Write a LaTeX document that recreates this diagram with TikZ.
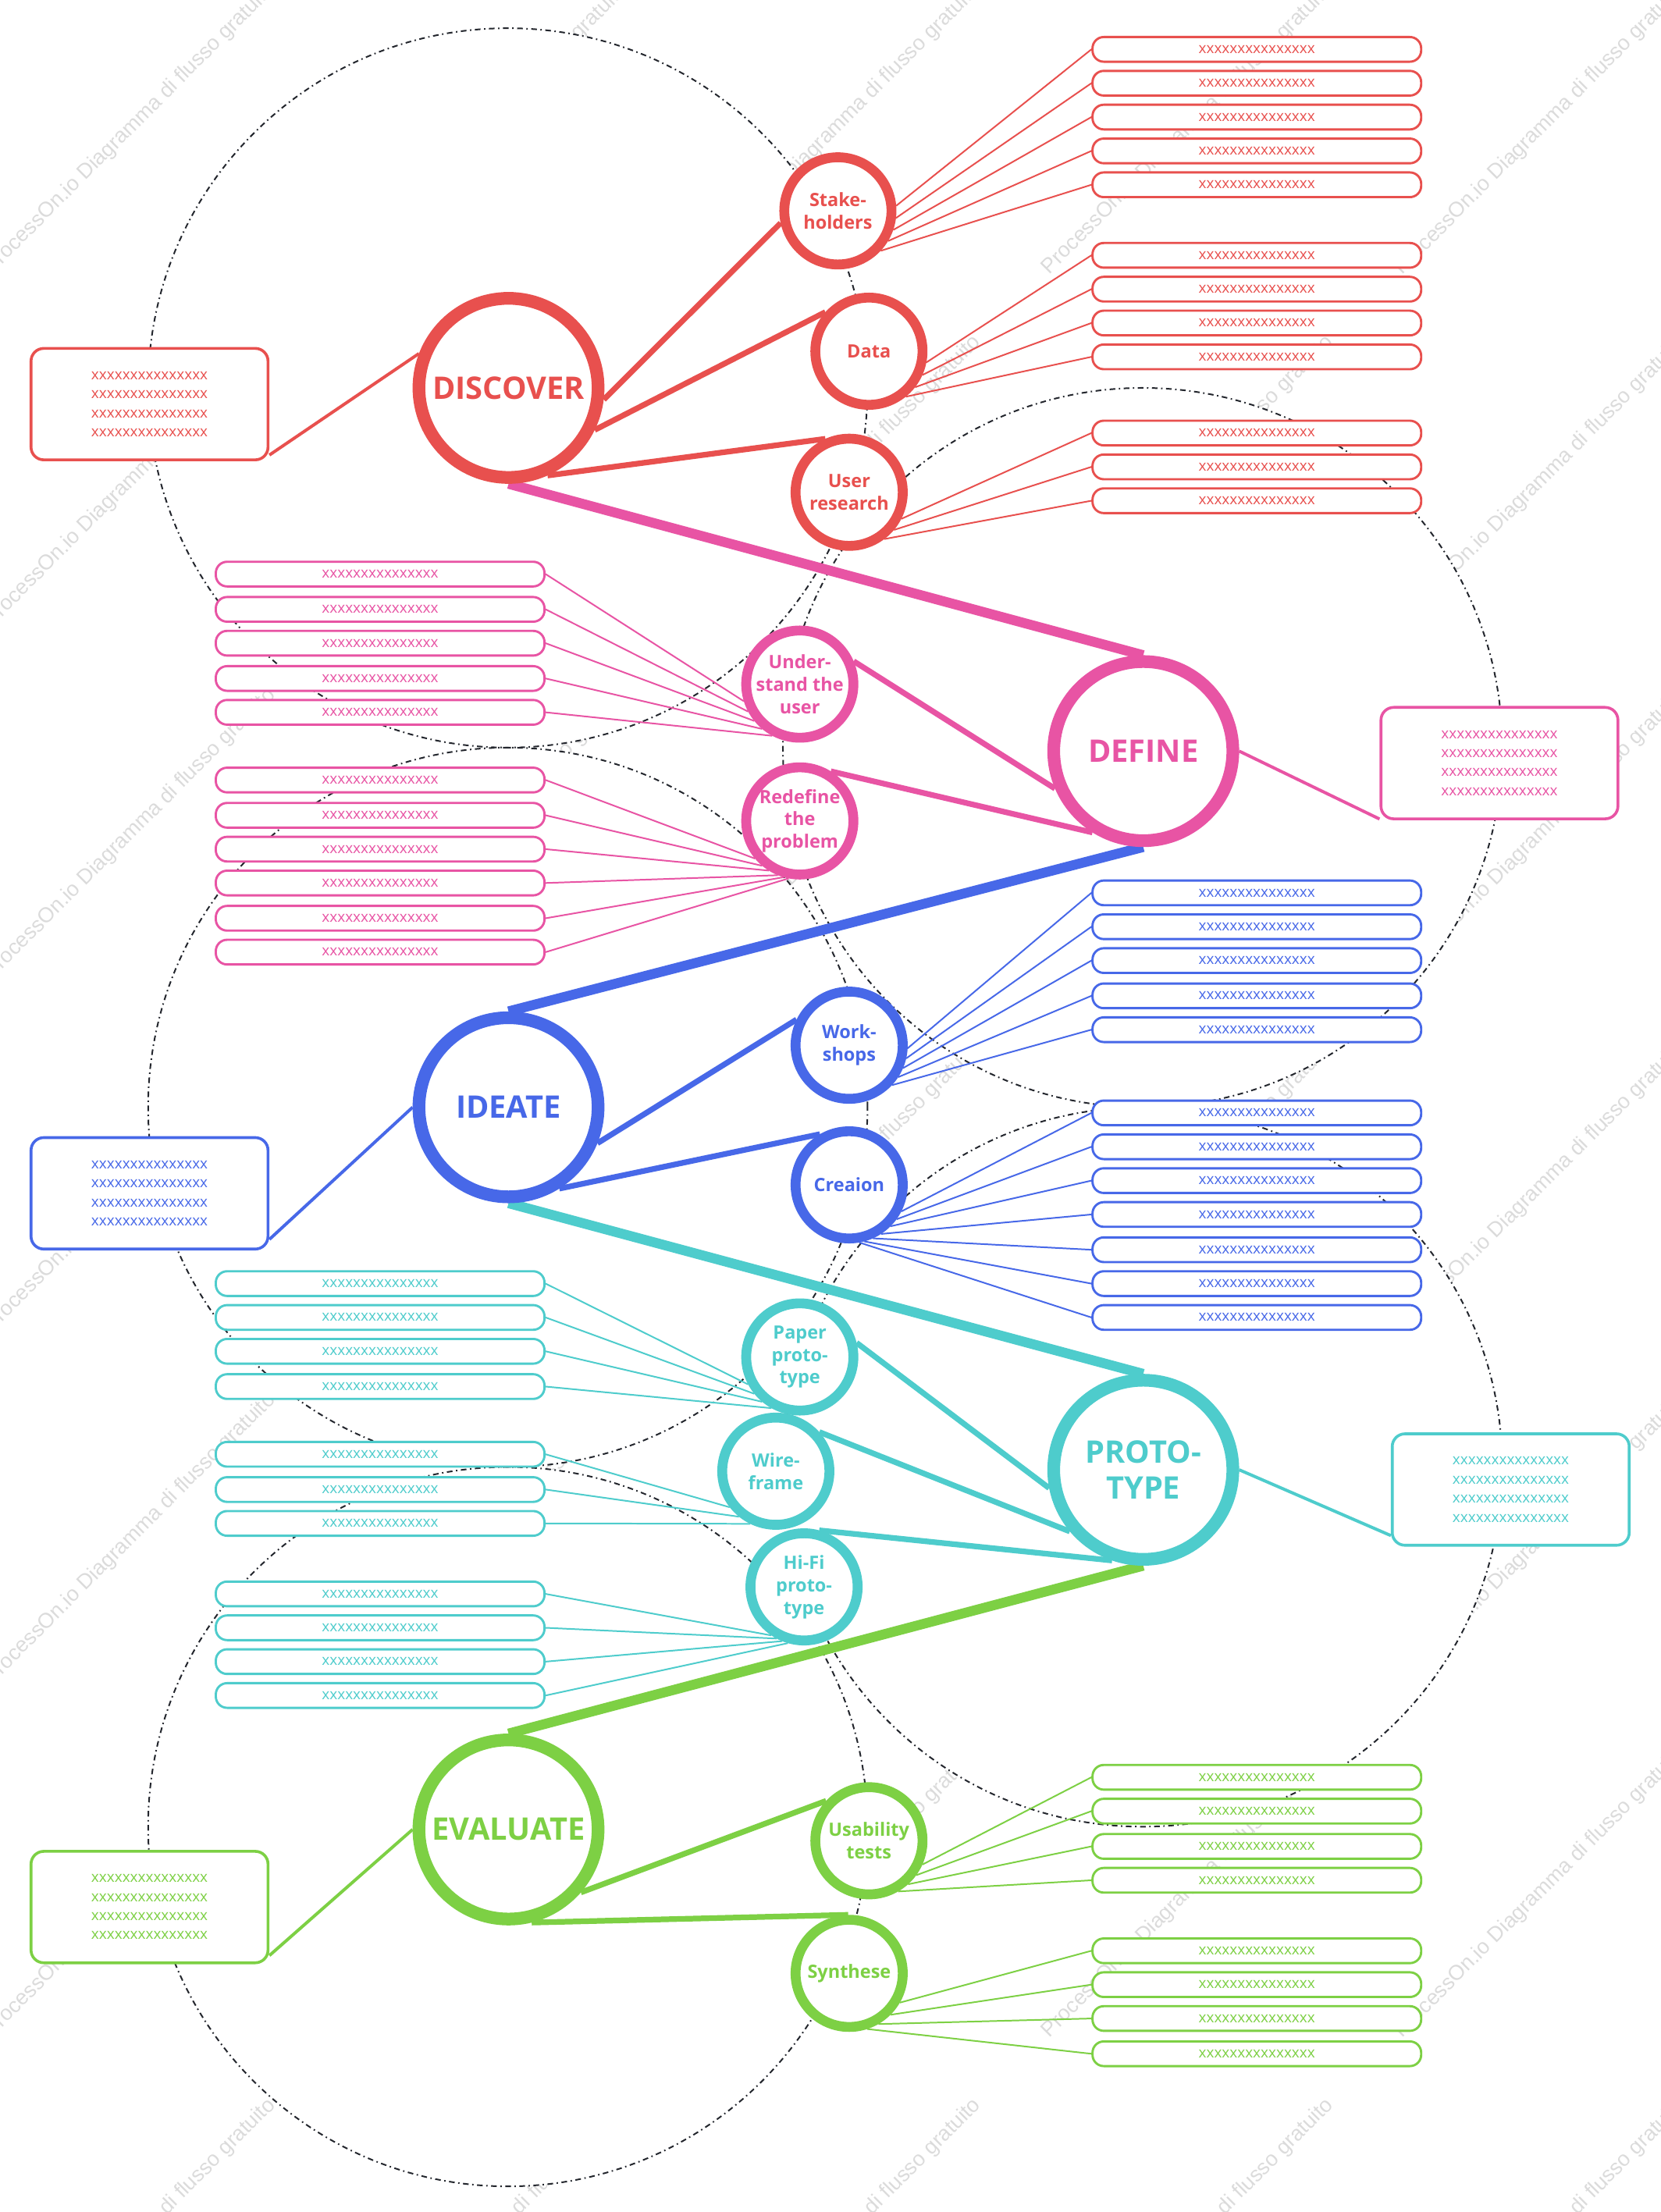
\documentclass[tikz,border=0pt]{standalone}
\usepackage{fontspec}
\setmainfont{Open Sans}
\newfontfamily\wmfont{Liberation Sans}
\pgfdeclarelayer{wm}
\pgfdeclarelayer{circ}
\pgfdeclarelayer{conn}
\pgfsetlayers{wm,circ,conn,main}
\definecolor{cred}{RGB}{232,80,78}
\definecolor{cpink}{RGB}{232,84,164}
\definecolor{cblue}{RGB}{71,104,232}
\definecolor{ccyan}{RGB}{78,204,204}
\definecolor{cgreen}{RGB}{125,208,68}
\definecolor{cdash}{RGB}{35,38,45}
\newcommand\xs{xxxxxxxxxxxxxxx}
\begin{document}
\begin{tikzpicture}[x=1pt,y=-1pt,
  mainnode/.style={circle, draw=#1, text=#1, line width=9pt, minimum size=127pt, inner sep=0pt, fill=white, font=\fontsize{22}{25}\selectfont\bfseries, align=center},
  subnode/.style={circle, draw=#1, text=#1, line width=7pt, minimum size=76pt, inner sep=0pt, fill=white, font=\fontsize{13}{16}\selectfont\bfseries, align=center},
  notebox/.style={draw=#1, text=#1, rounded corners=9pt, line width=2pt, minimum width=168pt, minimum height=79pt, inner sep=0pt, fill=white, font=\fontsize{10.5}{13.5}\selectfont, align=center},
  itembox/.style={draw=#1, text=#1, rounded corners=8pt, line width=1.6pt, minimum width=233pt, minimum height=17.5pt, inner sep=0pt, fill=white, font=\fontsize{10.5}{12}\selectfont},
  mainlink/.style={draw=#1, line width=7pt},
  sublink/.style={draw=#1, line width=4pt},
  notelink/.style={draw=#1, line width=2.2pt},
  itemlink/.style={draw=#1, line width=1.1pt},
  dashcirc/.style={draw=cdash, line width=1.1pt, dash pattern=on 4pt off 2.5pt on 1pt off 2.5pt},
  wmark/.style={rotate=45, anchor=base west, text=black!14, font=\wmfont\fontsize{15}{15}\selectfont, inner sep=0pt}
]
\useasboundingbox (0,0) rectangle (1177,1568.2);

% watermark
\begin{pgfonlayer}{wm}
\begin{scope}
\clip (0,0) rectangle (1177,1568.2);
\foreach \i in {0,...,4} {
  \foreach \j in {0,...,6} {
    \node[wmark] (wm-\i-\j) at ({-6+250*\i},{195+250*\j}) {ProcessOn.io Diagramma di flusso gratuito};
  }
}
\end{scope}
\end{pgfonlayer}

% dashed circles (white inside, hiding the watermark)
\begin{pgfonlayer}{circ}
\foreach \cx/\cy in {360/275,810/530,360/785,810/1040,360/1295}
  \fill[white] (\cx,\cy) circle[radius=255pt];
\foreach \cx/\cy in {360/275,810/530,360/785,810/1040,360/1295}
  \draw[dashcirc] (\cx,\cy) circle[radius=255pt];
\end{pgfonlayer}

% main nodes
\node[mainnode=cred]   (disc) at (360.5,275)   {DISCOVER};
\node[mainnode=cpink]  (def)  at (810.5,532.5) {DEFINE};
\node[mainnode=cblue]  (ide)  at (360.5,785)   {IDEATE};
\node[mainnode=ccyan]  (pro)  at (810.5,1042)  {PROTO-\\TYPE};
\node[mainnode=cgreen] (eva)  at (360.5,1297)  {EVALUATE};

% sub nodes
\node[subnode=cred]   (sh)   at (594,149.5) {Stake-\\holders};
\node[subnode=cred]   (dat)  at (616,249)   {Data};
\node[subnode=cred]   (ur)   at (602,349)   {User\\research};
\node[subnode=cpink]  (und)  at (567,485)   {Under-\\stand the\\user};
\node[subnode=cpink]  (rdf)  at (567,582)   {Redefine\\the\\problem};
\node[subnode=cblue]  (ws)   at (602,741)   {Work-\\shops};
\node[subnode=cblue]  (cr)   at (602,840)   {Creaion};
\node[subnode=ccyan]  (pp)   at (567,962)   {Paper\\proto-\\type};
\node[subnode=ccyan]  (wf)   at (550,1043)  {Wire-\\frame};
\node[subnode=ccyan]  (hf)   at (570,1125)  {Hi-Fi\\proto-\\type};
\node[subnode=cgreen] (ut)   at (616,1305)  {Usability\\tests};
\node[subnode=cgreen] (sy)   at (602,1399)  {Synthese};

% note boxes
\node[notebox=cred]   (dnote) at (106,286.5) {\xs\\\xs\\\xs\\\xs};
\node[notebox=cpink]  (fnote) at (1063,541)  {\xs\\\xs\\\xs\\\xs};
\node[notebox=cblue]  (inote) at (106,846)   {\xs\\\xs\\\xs\\\xs};
\node[notebox=ccyan]  (pnote) at (1071,1056) {\xs\\\xs\\\xs\\\xs};
\node[notebox=cgreen] (enote) at (106,1352)  {\xs\\\xs\\\xs\\\xs};

% item boxes, right side
\foreach \y/\a [count=\i] in {35/5,59/-7,83/-19,107/-31,131/-43} {
  \node[itembox=cred] (sh\i) at (891,\y) {\xs};
  \begin{pgfonlayer}{conn}\draw[itemlink=cred] (sh.\a) -- (sh\i.west);\end{pgfonlayer}
}
\foreach \y/\a [count=\i] in {181/-11,205/-24,229/-38,253/-51} {
  \node[itembox=cred] (dat\i) at (891,\y) {\xs};
  \begin{pgfonlayer}{conn}\draw[itemlink=cred] (dat.\a) -- (dat\i.west);\end{pgfonlayer}
}
\foreach \y/\a [count=\i] in {307/-27,331/-40,355/-53} {
  \node[itembox=cred] (ur\i) at (891,\y) {\xs};
  \begin{pgfonlayer}{conn}\draw[itemlink=cred] (ur.\a) -- (ur\i.west);\end{pgfonlayer}
}
\foreach \y/\a [count=\i] in {633/-3,657/-13,681/-23,706/-33,730/-43} {
  \node[itembox=cblue] (ws\i) at (891,\y) {\xs};
  \begin{pgfonlayer}{conn}\draw[itemlink=cblue] (ws.\a) -- (ws\i.west);\end{pgfonlayer}
}
\foreach \y/\a [count=\i] in {789/-27,813/-36,837/-45,861/-57,886/-66,910/-75,934/-80} {
  \node[itembox=cblue] (cr\i) at (891,\y) {\xs};
  \begin{pgfonlayer}{conn}\draw[itemlink=cblue] (cr.\a) -- (cr\i.west);\end{pgfonlayer}
}
\foreach \y/\a [count=\i] in {1260/-24,1284/-36,1309/-48,1333/-60} {
  \node[itembox=cgreen] (ut\i) at (891,\y) {\xs};
  \begin{pgfonlayer}{conn}\draw[itemlink=cgreen] (ut.\a) -- (ut\i.west);\end{pgfonlayer}
}
\foreach \y/\a [count=\i] in {1383/-30,1407/-45,1431/-60,1456/-72} {
  \node[itembox=cgreen] (sy\i) at (891,\y) {\xs};
  \begin{pgfonlayer}{conn}\draw[itemlink=cgreen] (sy.\a) -- (sy\i.west);\end{pgfonlayer}
}

% item boxes, left side
\foreach \y/\a [count=\i] in {407/197,432/208,456/219,481/230,505/242} {
  \node[itembox=cpink] (und\i) at (269.5,\y) {\xs};
  \begin{pgfonlayer}{conn}\draw[itemlink=cpink] (und.\a) -- (und\i.east);\end{pgfonlayer}
}
\foreach \y/\a [count=\i] in {553/220,578/230,602/238,626/248,651/254,675/259} {
  \node[itembox=cpink] (rdf\i) at (269.5,\y) {\xs};
  \begin{pgfonlayer}{conn}\draw[itemlink=cpink] (rdf.\a) -- (rdf\i.east);\end{pgfonlayer}
}
\foreach \y/\a [count=\i] in {910/208,934/219,958/230,983/241} {
  \node[itembox=ccyan] (pp\i) at (269.5,\y) {\xs};
  \begin{pgfonlayer}{conn}\draw[itemlink=ccyan] (pp.\a) -- (pp\i.east);\end{pgfonlayer}
}
\foreach \y/\a [count=\i] in {1031/218,1056/231,1080/244} {
  \node[itembox=ccyan] (wf\i) at (269.5,\y) {\xs};
  \begin{pgfonlayer}{conn}\draw[itemlink=ccyan] (wf.\a) -- (wf\i.east);\end{pgfonlayer}
}
\foreach \y/\a [count=\i] in {1130/236,1154/242,1178/248,1202/254} {
  \node[itembox=ccyan] (hf\i) at (269.5,\y) {\xs};
  \begin{pgfonlayer}{conn}\draw[itemlink=ccyan] (hf.\a) -- (hf\i.east);\end{pgfonlayer}
}

% connectors
\begin{pgfonlayer}{conn}
\draw[mainlink=cpink]  (disc.south) -- (def.north);
\draw[mainlink=cblue]  (def.south) -- (ide.north);
\draw[mainlink=ccyan]  (ide.south) -- (pro.north);
\draw[mainlink=cgreen] (pro.south) -- (eva.north);

\draw[sublink=cred] (disc.-7) -- (sh.192);
\draw[sublink=cred] (disc.-26) -- (dat.138);
\draw[sublink=cred] (disc.-66) -- (ur.114);
\draw[notelink=cred] (disc.159) -- (dnote.-23);

\draw[sublink=cpink] (def.203) -- (und.23);
\draw[sublink=cpink] (def.238) -- (rdf.58);
\draw[notelink=cpink] (def.0) -- (fnote.205);

\draw[sublink=cblue] (ide.-22.5) -- (ws.154);
\draw[sublink=cblue] (ide.-58) -- (cr.120);
\draw[notelink=cblue] (ide.180) -- (inote.-21.5);

\draw[sublink=ccyan] (pro.191) -- (pp.14);
\draw[sublink=ccyan] (pro.220) -- (wf.42);
\draw[sublink=ccyan] (pro.251) -- (hf.75);
\draw[notelink=ccyan] (pro.0) -- (pnote.201);

\draw[sublink=cgreen] (eva.-41.5) -- (ut.137);
\draw[sublink=cgreen] (eva.-76.6) -- (sy.91);
\draw[notelink=cgreen] (eva.180) -- (enote.-22.5);
\end{pgfonlayer}
\end{tikzpicture}
\end{document}
